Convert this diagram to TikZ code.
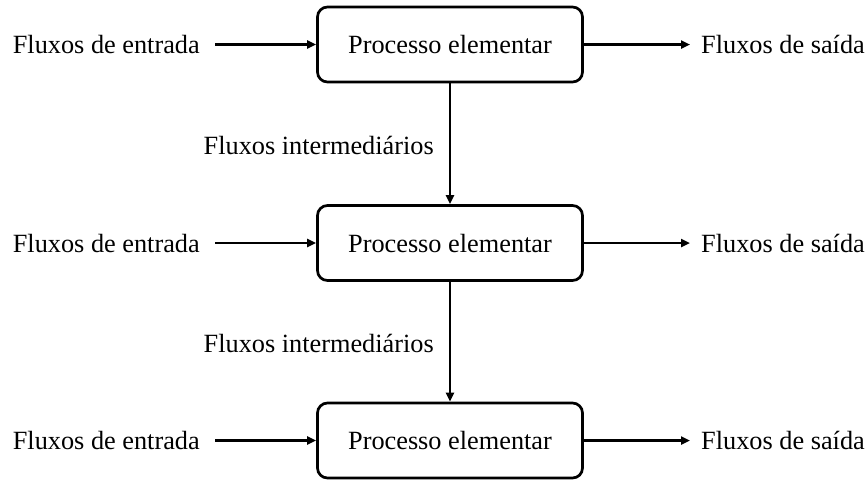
\documentclass[tikz,border=0pt]{standalone}
\usepackage{fontspec}
\setmainfont{Liberation Serif}
\usetikzlibrary{arrows.meta}
\begin{document}
\begin{tikzpicture}[x=1pt,y=-1pt,
  proc/.style={draw,line width=2.7pt,rounded corners=10pt,minimum width=265pt,minimum height=75pt,inner sep=0pt},
  lbl/.style={inner sep=0pt},
  flow/.style={line width=2.7pt,-{Triangle[length=9pt,width=8pt]}},
  every node/.style={font=\fontsize{26.3}{30}\selectfont}]
\useasboundingbox (0,0) rectangle (867,480);
\foreach \i/\y in {1/44.5,2/243,3/440.5}{
  \node[proc] (p\i) at (450,\y) {Processo elementar};
  \node[lbl,anchor=east] (in\i) at (200,\y) {Fluxos de entrada};
  \node[lbl,anchor=west] (out\i) at (701,\y) {Fluxos de saída};
  \coordinate (a\i) at (215,\y);
  \coordinate (b\i) at (690,\y);
  \draw[flow] (a\i) -- (p\i.west);
  \draw[flow] (p\i.east) -- (b\i);
}
\node[lbl,anchor=east] (m1) at (434,145) {Fluxos intermediários};
\node[lbl,anchor=east] (m2) at (434,343) {Fluxos intermediários};
\draw[flow] (p1.south) -- (p2.north);
\draw[flow] (p2.south) -- (p3.north);
\end{tikzpicture}
\end{document}
